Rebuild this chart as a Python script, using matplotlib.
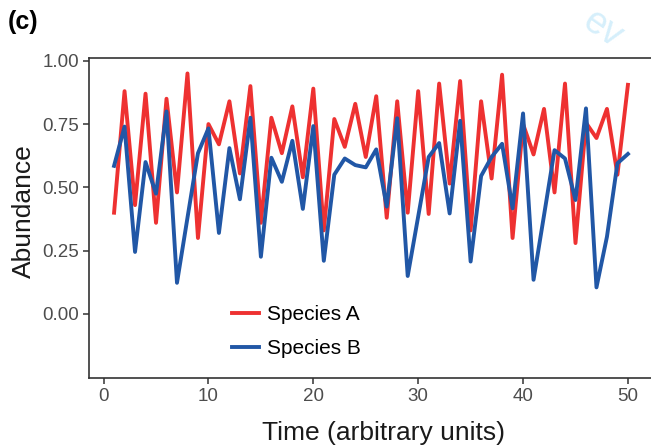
import numpy as np
import matplotlib
matplotlib.use("Agg")
import matplotlib.pyplot as plt

plt.rcParams['font.family'] = ['Liberation Sans', 'DejaVu Sans']

time = np.arange(1, 51)

species_a = [0.40, 0.88, 0.43, 0.87, 0.36, 0.85, 0.48, 0.95, 0.30, 0.75,
             0.67, 0.84, 0.555, 0.90, 0.36, 0.775, 0.635, 0.82, 0.54, 0.89,
             0.33, 0.77, 0.66, 0.83, 0.62, 0.86, 0.38, 0.84, 0.40, 0.88,
             0.395, 0.91, 0.515, 0.92, 0.33, 0.84, 0.535, 0.945, 0.30, 0.75,
             0.63, 0.81, 0.48, 0.91, 0.28, 0.755, 0.695, 0.81, 0.55, 0.905]

species_b = [0.585, 0.74, 0.245, 0.60, 0.475, 0.80, 0.123, 0.38, 0.635, 0.733,
             0.32, 0.655, 0.453, 0.775, 0.226, 0.617, 0.522, 0.684, 0.415, 0.742,
             0.21, 0.55, 0.614, 0.588, 0.579, 0.65, 0.424, 0.773, 0.15, 0.385,
             0.62, 0.675, 0.397, 0.763, 0.207, 0.545, 0.62, 0.672, 0.417, 0.792,
             0.135, 0.39, 0.647, 0.614, 0.45, 0.812, 0.105, 0.305, 0.595, 0.632]

labels = ["Species A", "Species B"]
x_ticks = [0, 10, 20, 30, 40, 50]
y_ticks = [0.00, 0.25, 0.50, 0.75, 1.00]

RED = "#ee3131"
BLUE = "#2157a6"
AXIS = "#333333"


def main():
    fig = plt.figure(figsize=(6.51, 4.47), dpi=100)

    # faint review watermark in the top right corner
    fig.text(0.925, 0.935, "ev", fontsize=27, color="#d6effb",
             rotation=-35, ha="center", va="center", zorder=0)

    ax = fig.add_axes([89 / 651, 1 - 378 / 447, 1 - 89 / 651, 320 / 447])
    ax.set_facecolor("white")

    ax.plot(time, species_a, color=RED, lw=2.8, label=labels[0], zorder=3)
    ax.plot(time, species_b, color=BLUE, lw=2.8, label=labels[1], zorder=4)

    ax.set_xlim(-1.39, 52.2)
    ax.set_ylim(-0.253, 1.011)
    ax.set_xticks(x_ticks)
    ax.set_yticks(y_ticks)
    ax.set_yticklabels(["%.2f" % v for v in y_ticks])

    for side in ["left", "bottom", "top"]:
        ax.spines[side].set_color(AXIS)
        ax.spines[side].set_linewidth(1.2)
    ax.spines["right"].set_visible(False)

    ax.tick_params(axis="both", length=4.3, width=1.1, color=AXIS,
                   labelcolor="#4d4d4d", labelsize=13.5, pad=3)

    ax.set_xlabel("Time (arbitrary units)", fontsize=19, color="#1a1a1a")
    ax.set_ylabel("Abundance", fontsize=19, color="#1a1a1a")
    ax.xaxis.set_label_coords(0.524, -0.133)
    ax.yaxis.set_label_coords(-0.095, 0.52)

    ax.legend(loc="center left", bbox_to_anchor=(0.254, 0.145),
              frameon=False, fontsize=15, handlelength=1.3,
              handletextpad=0.4, labelspacing=0.72, borderpad=0,
              borderaxespad=0)

    fig.text(8 / 651, 1 - 10 / 447, "(c)", fontsize=18, fontweight="bold",
             ha="left", va="top")

    fig.savefig("out.png", dpi=100, facecolor="white")


main()
